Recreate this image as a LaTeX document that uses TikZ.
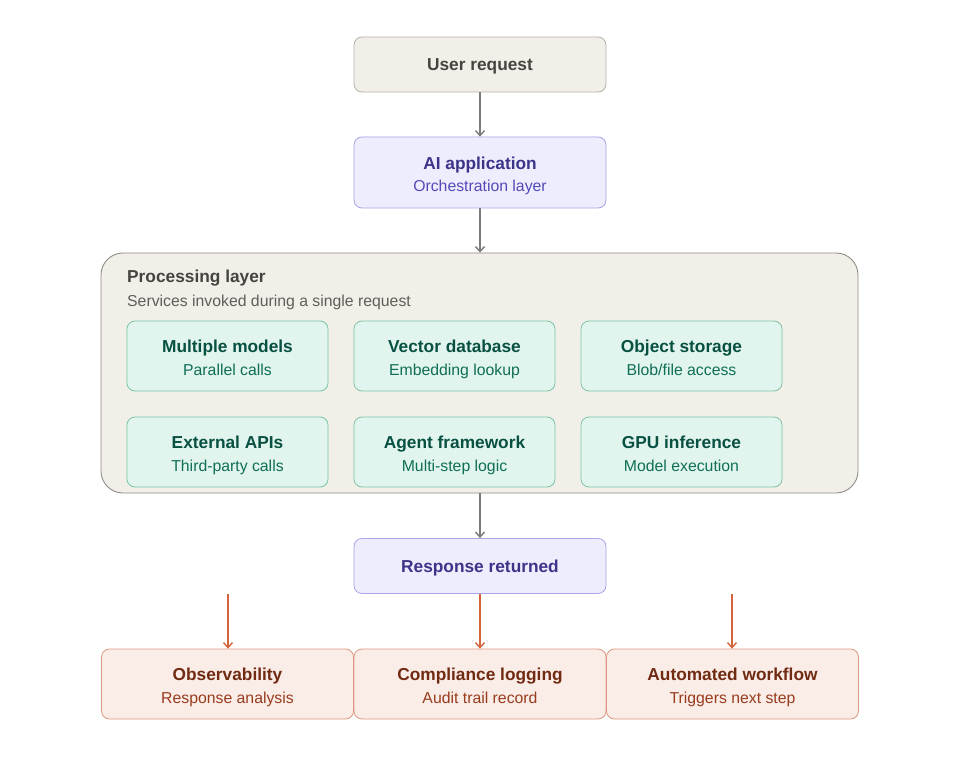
\documentclass[tikz,border=0pt]{standalone}
\usepackage{fontspec}
\setmainfont{Liberation Sans}
\usetikzlibrary{arrows.meta,positioning}
\definecolor{grayfill}{HTML}{F1EFE8}
\definecolor{graydraw}{HTML}{B4B2A9}
\definecolor{graytext}{HTML}{444441}
\definecolor{graysub}{HTML}{5F5E5A}
\definecolor{contdraw}{HTML}{8E8D87}
\definecolor{purfill}{HTML}{EEEDFE}
\definecolor{purdraw}{HTML}{A9A4E6}
\definecolor{purtitle}{HTML}{3C3489}
\definecolor{pursub}{HTML}{534AB7}
\definecolor{grnfill}{HTML}{E1F5EE}
\definecolor{grndraw}{HTML}{7CC4A8}
\definecolor{grntitle}{HTML}{085041}
\definecolor{grnsub}{HTML}{0F6E56}
\definecolor{corfill}{HTML}{FAECE7}
\definecolor{cordraw}{HTML}{DC9A82}
\definecolor{cortitle}{HTML}{712B13}
\definecolor{corsub}{HTML}{993C1D}
\definecolor{corarrow}{HTML}{D4623A}
\definecolor{grayarrow}{HTML}{7C7B77}
\tikzset{
  x=1pt, y=-1pt,
  box/.style={rounded corners=8pt, line width=0.8pt},
  graybox/.style={box, fill=grayfill, draw=graydraw,
    minimum width=252pt, minimum height=55pt},
  purbox/.style={box, fill=purfill, draw=purdraw, minimum width=252pt},
  grnbox/.style={box, fill=grnfill, draw=grndraw,
    minimum width=201pt, minimum height=70pt},
  corbox/.style={box, fill=corfill, draw=cordraw,
    minimum width=252pt, minimum height=70pt},
  ttl/.style={anchor=base, inner sep=0pt, font=\fontsize{17.3}{20}\selectfont\bfseries},
  sub/.style={anchor=base, inner sep=0pt, font=\fontsize{15.8}{19}\selectfont},
  garrow/.style={draw=grayarrow, line width=1.4pt, -{Straight Barb[length=5pt,width=9pt,line width=1.4pt]}},
  carrow/.style={draw=corarrow, line width=1.4pt, -{Straight Barb[length=5pt,width=9pt,line width=1.4pt]}},
}
% #1 box style, #2 name, #3 position, #4 title colour, #5 sub colour, #6 title, #7 sub
\newcommand{\twobox}[7]{%
  \node[#1] (#2) at #3 {};
  \node[ttl, text=#4] (#2-t) at ([yshift=3.2pt]#2.center) {#6};
  \node[sub, text=#5] (#2-s) at ([yshift=-19pt]#2.center) {#7};
}
\begin{document}
\begin{tikzpicture}
\useasboundingbox[fill=white] (0,0) rectangle (980,770);
% container
\node[draw=contdraw, fill=grayfill, line width=0.9pt, rounded corners=22pt,
  minimum width=757pt, minimum height=240pt] (proc) at (479.5,373) {};
\node[anchor=base west, inner sep=0pt, text=graytext, font=\fontsize{17.3}{20}\selectfont\bfseries] (proct) at (127,283) {Processing layer};
\node[anchor=base west, inner sep=0pt, text=graysub, font=\fontsize{15.8}{19}\selectfont] (procs) at (127,306) {Services invoked during a single request};
% top
\node[graybox] (user) at (480,64.5) {};
\node[ttl, text=graytext] (user-t) at ([yshift=-6pt]user.center) {User request};
\twobox{purbox, minimum height=71pt}{ai}{(480,172.5)}{purtitle}{pursub}{AI application}{Orchestration layer}
% inner
\twobox{grnbox}{m1}{(227.5,356)}{grntitle}{grnsub}{Multiple models}{Parallel calls}
\twobox{grnbox}{m2}{(454.5,356)}{grntitle}{grnsub}{Vector database}{Embedding lookup}
\twobox{grnbox}{m3}{(681.5,356)}{grntitle}{grnsub}{Object storage}{Blob/file access}
\twobox{grnbox}{m4}{(227.5,452)}{grntitle}{grnsub}{External APIs}{Third-party calls}
\twobox{grnbox}{m5}{(454.5,452)}{grntitle}{grnsub}{Agent framework}{Multi-step logic}
\twobox{grnbox}{m6}{(681.5,452)}{grntitle}{grnsub}{GPU inference}{Model execution}
% response
\node[purbox, minimum height=55pt] (resp) at (480,566) {};
\node[ttl, text=purtitle] (resp-t) at ([yshift=-6pt]resp.center) {Response returned};
% bottom
\twobox{corbox}{obs}{(227.5,684)}{cortitle}{corsub}{Observability}{Response analysis}
\twobox{corbox}{comp}{(480,684)}{cortitle}{corsub}{Compliance logging}{Audit trail record}
\twobox{corbox}{auto}{(732.5,684)}{cortitle}{corsub}{Automated workflow}{Triggers next step}
% arrows
\draw[garrow] (user.south) -- (ai.north);
\draw[garrow] (ai.south) -- (proc.north -| ai.south);
\draw[garrow] (proc.south -| resp.north) -- (resp.north);
\coordinate (ls) at (228,594);
\coordinate (rs) at (732,594);
\draw[carrow] (ls) -- (ls |- obs.north);
\draw[carrow] (resp.south) -- (comp.north);
\draw[carrow] (rs) -- (rs |- auto.north);
\end{tikzpicture}
\end{document}
